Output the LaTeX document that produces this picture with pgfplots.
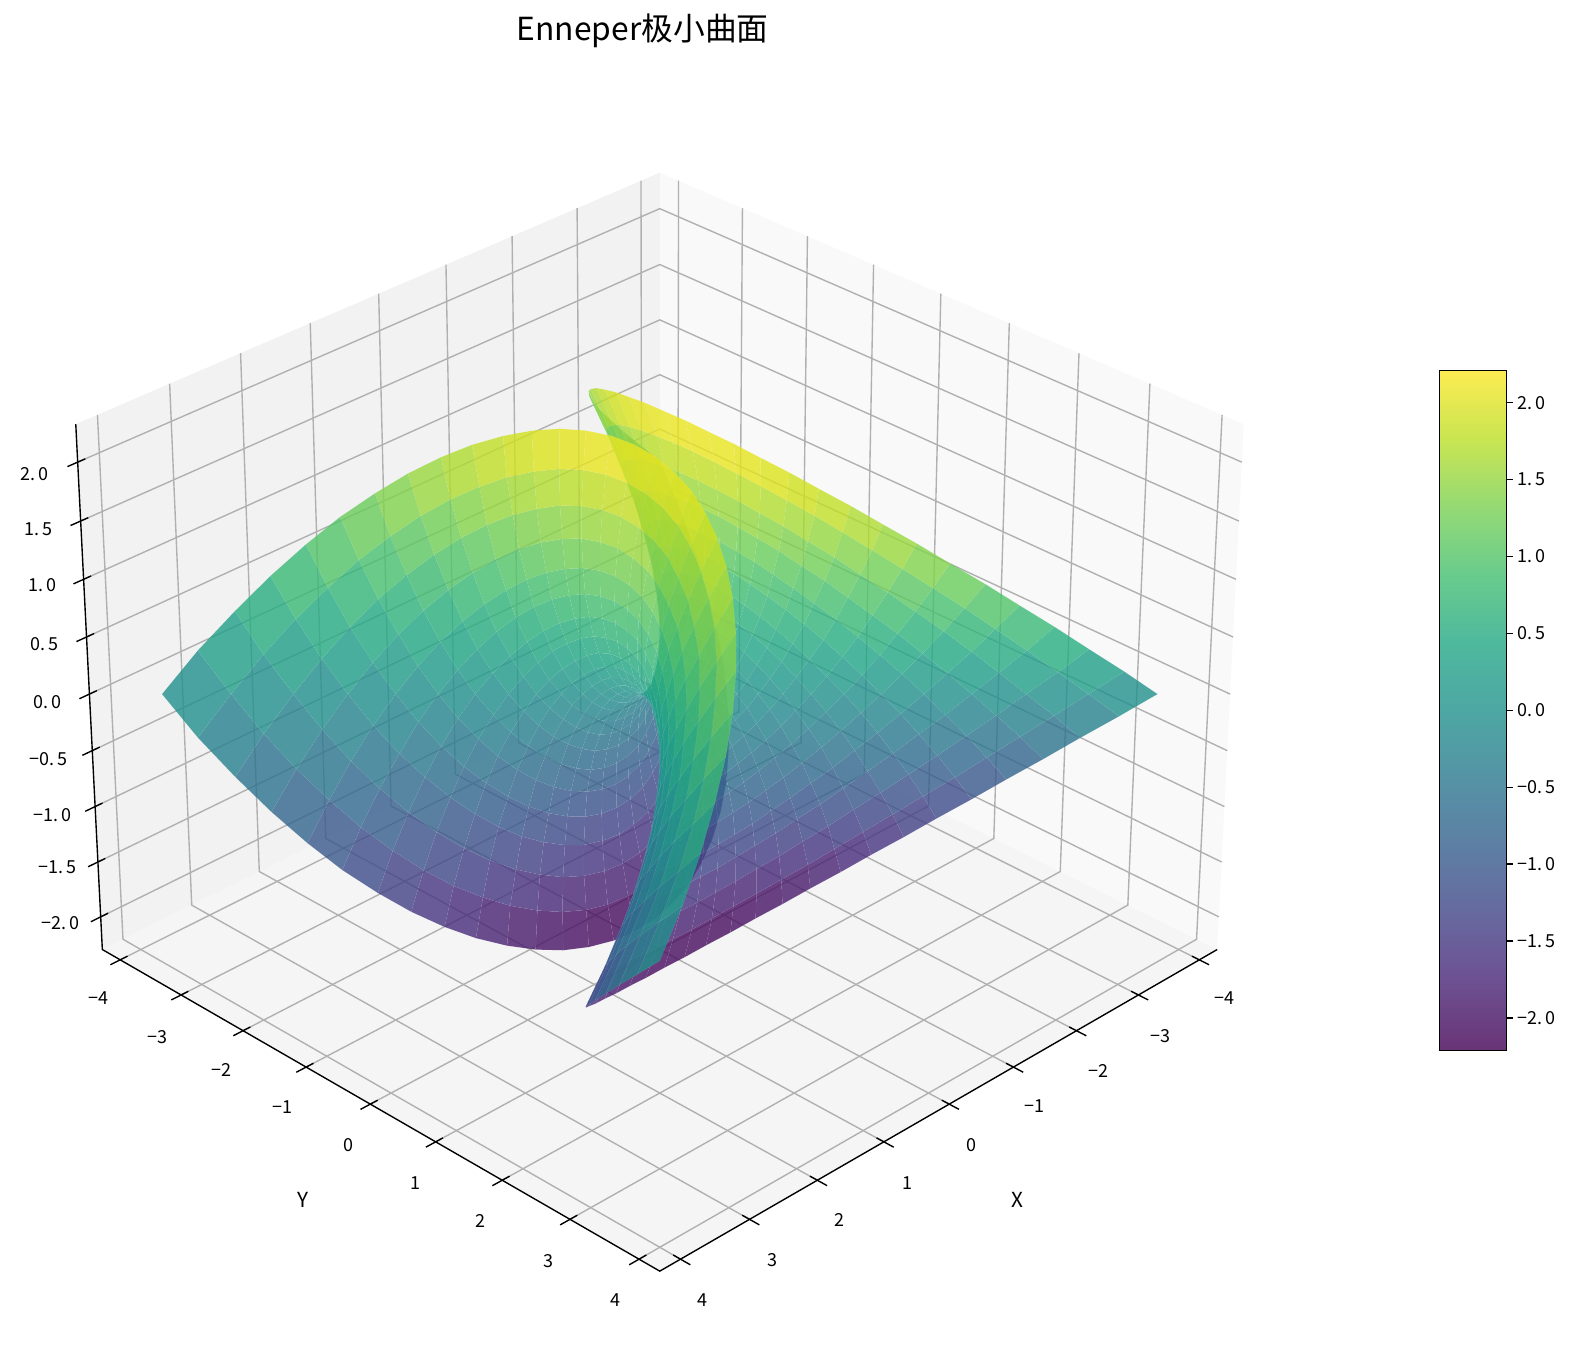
\documentclass[border=0pt]{standalone}
\usepackage{fontspec}
\setmainfont{Noto Sans CJK SC}
\usepackage{pgfplots}
\pgfplotsset{compat=1.18}
\newcommand\DD[3]{(1-0.008837*((#1)+(#2))-0.01008*(#3))}
\newcommand\SX[3]{656+65.987*((#2)-(#1))/\DD{#1}{#2}{#3}}
\newcommand\SY[3]{690-(-32.997*((#1)+(#2))+112.96*(#3))/\DD{#1}{#2}{#3}}
\pgfplotsset{/pgfplots/table/proj/.style={
  x expr={\SX{\thisrow{x}}{\thisrow{y}}{\thisrow{z}}},
  y expr={\SY{\thisrow{x}}{\thisrow{y}}{\thisrow{z}}},
  z expr={0.08837*(\thisrow{x}+\thisrow{y})+0.1008*\thisrow{z}}, row sep=\\},
 colormap={viridis80}{rgb255=(105,52,118) rgb255=(109,80,145) rgb255=(103,105,159) rgb255=(93,127,164) rgb255=(85,147,165) rgb255=(77,167,163) rgb255=(78,185,157) rgb255=(105,204,141) rgb255=(149,218,116) rgb255=(202,229,81) rgb255=(253,236,81)},
 gl/.style={color={rgb,255:red,176;green,176;blue,176},line width=1pt,no marks,forget plot},
 bk/.style={color=black,line width=1pt,no marks,forget plot},
}
\newcommand\tl[3]{\node[font=\fontsize{13}{13}\selectfont] at (axis cs:#1,#2,0) {#3};}
\begin{document}
\begin{tikzpicture}
\path[use as bounding box] (0,0) rectangle (1141.9pt,980.4pt);
\begin{axis}[at={(0,0)},anchor=south west,scale only axis,width=1141.9pt,height=980.4pt,
  view={0}{90},hide axis,clip=false,xmin=0,xmax=1568,ymin=0,ymax=1346,zmin=-1,zmax=1,y dir=reverse,
  colormap/viridis,point meta min=-2.21,point meta max=2.21]
\addplot3[fill={rgb,255:red,245;green,245;blue,245},draw=none,no marks,forget plot] table[proj]{x y z\\ 4.297 4.297 -2.30\\ 4.297 -4.297 -2.30\\ -4.297 -4.297 -2.30\\ -4.297 4.297 -2.30\\ 4.297 4.297 -2.30\\};
\addplot3[fill={rgb,255:red,242;green,242;blue,242},draw=none,no marks,forget plot] table[proj]{x y z\\ 4.297 -4.297 -2.30\\ -4.297 -4.297 -2.30\\ -4.297 -4.297 2.32\\ 4.297 -4.297 2.32\\ 4.297 -4.297 -2.30\\};
\addplot3[fill={rgb,255:red,249;green,249;blue,249},draw=none,no marks,forget plot] table[proj]{x y z\\ -4.297 4.297 -2.30\\ -4.297 -4.297 -2.30\\ -4.297 -4.297 2.32\\ -4.297 4.297 2.32\\ -4.297 4.297 -2.30\\};
\pgfplotsinvokeforeach{-4,-3,-2,-1,0,1,2,3,4}{
\addplot3[gl] table[proj]{x y z\\ #1 4.297 -2.30\\ #1 -4.297 -2.30\\ #1 -4.297 2.32\\};
\addplot3[gl] table[proj]{x y z\\ 4.297 #1 -2.30\\ -4.297 #1 -2.30\\ -4.297 #1 2.32\\};
\addplot3[bk] table[proj]{x y z\\ #1 4.437 -2.30\\ #1 4.192 -2.30\\};
\addplot3[bk] table[proj]{x y z\\ 4.437 #1 -2.30\\ 4.192 #1 -2.30\\};
}
\pgfplotsinvokeforeach{-2,-1.5,-1,-0.5,0,0.5,1,1.5,2}{
\addplot3[gl] table[proj]{x y z\\ 4.297 -4.297 #1\\ -4.297 -4.297 #1\\ -4.297 4.297 #1\\};
\addplot3[bk] table[proj]{x y z\\ 4.437 -4.297 #1\\ 4.192 -4.297 #1\\};
}
\addplot3[bk] table[proj]{x y z\\ -4.297 4.297 -2.30\\ 4.297 4.297 -2.30\\ 4.297 -4.297 -2.30\\ 4.297 -4.297 2.32\\};
\addplot3[surf,shader=faceted,faceted color=white,line width=0.2pt,fill opacity=0.8,draw opacity=0.12,z buffer=sort,mesh/rows=31,mesh/cols=31,point meta=\thisrow{z}] table[proj]{x y z\\
-3.75 -3.75 0\\-3.32 -3.64 .29\\-2.91 -3.49 .56\\-2.54 -3.32 .81\\-2.19 -3.13 1.04\\-1.88 -2.92 1.25\\-1.59 -2.68 1.44\\-1.34 -2.43 1.61\\-1.11 -2.16 1.76\\-.92 -1.88 1.89\\-.75 -1.58 2\\-.62 -1.28 2.09\\-.51 -.97 2.16\\-.44 -.65 2.21\\-.39 -.32 2.24\\-.38 0 2.25\\-.39 .32 2.24\\-.44 .65 2.21\\-.51 .97 2.16\\-.62 1.28 2.09\\-.75 1.58 2\\-.92 1.88 1.89\\-1.11 2.16 1.76\\-1.34 2.43 1.61\\-1.59 2.68 1.44\\-1.88 2.92 1.25\\-2.19 3.13 1.04\\-2.54 3.32 .81\\-2.91 3.49 .56\\-3.32 3.64 .29\\-3.75 3.75 0\\
-3.64 -3.32 -.29\\-3.23 -3.23 0\\-2.85 -3.12 .27\\-2.50 -2.98 .52\\-2.18 -2.81 .75\\-1.89 -2.63 .96\\-1.62 -2.42 1.15\\-1.38 -2.20 1.32\\-1.17 -1.96 1.47\\-.99 -1.70 1.60\\-.84 -1.44 1.71\\-.71 -1.16 1.80\\-.61 -.88 1.87\\-.54 -.59 1.92\\-.50 -.30 1.95\\-.49 0 1.96\\-.50 .30 1.95\\-.54 .59 1.92\\-.61 .88 1.87\\-.71 1.16 1.80\\-.84 1.44 1.71\\-.99 1.70 1.60\\-1.17 1.96 1.47\\-1.38 2.20 1.32\\-1.62 2.42 1.15\\-1.89 2.63 .96\\-2.18 2.81 .75\\-2.50 2.98 .52\\-2.85 3.12 .27\\-3.23 3.23 0\\-3.64 3.32 -.29\\
-3.49 -2.91 -.56\\-3.12 -2.85 -.27\\-2.76 -2.76 0\\-2.44 -2.65 .25\\-2.14 -2.52 .48\\-1.87 -2.36 .69\\-1.62 -2.18 .88\\-1.40 -1.98 1.05\\-1.20 -1.77 1.20\\-1.04 -1.54 1.33\\-.89 -1.30 1.44\\-.78 -1.05 1.53\\-.68 -.80 1.60\\-.62 -.54 1.65\\-.58 -.27 1.68\\-.57 0 1.69\\-.58 .27 1.68\\-.62 .54 1.65\\-.68 .80 1.60\\-.78 1.05 1.53\\-.89 1.30 1.44\\-1.04 1.54 1.33\\-1.20 1.77 1.20\\-1.40 1.98 1.05\\-1.62 2.18 .88\\-1.87 2.36 .69\\-2.14 2.52 .48\\-2.44 2.65 .25\\-2.76 2.76 0\\-3.12 2.85 -.27\\-3.49 2.91 -.56\\
-3.32 -2.54 -.81\\-2.98 -2.50 -.52\\-2.65 -2.44 -.25\\-2.35 -2.35 0\\-2.08 -2.24 .23\\-1.82 -2.11 .44\\-1.60 -1.95 .63\\-1.39 -1.78 .80\\-1.21 -1.59 .95\\-1.06 -1.39 1.08\\-.92 -1.18 1.19\\-.82 -.95 1.28\\-.73 -.72 1.35\\-.67 -.49 1.40\\-.64 -.24 1.43\\-.62 0 1.44\\-.64 .24 1.43\\-.67 .49 1.40\\-.73 .72 1.35\\-.82 .95 1.28\\-.92 1.18 1.19\\-1.06 1.39 1.08\\-1.21 1.59 .95\\-1.39 1.78 .80\\-1.60 1.95 .63\\-1.82 2.11 .44\\-2.08 2.24 .23\\-2.35 2.35 0\\-2.65 2.44 -.25\\-2.98 2.50 -.52\\-3.32 2.54 -.81\\
-3.13 -2.19 -1.04\\-2.81 -2.18 -.75\\-2.52 -2.14 -.48\\-2.24 -2.08 -.23\\-1.99 -1.99 0\\-1.76 -1.88 .21\\-1.55 -1.75 .40\\-1.36 -1.60 .57\\-1.20 -1.43 .72\\-1.05 -1.25 .85\\-.93 -1.06 .96\\-.83 -.86 1.05\\-.76 -.65 1.12\\-.70 -.44 1.17\\-.67 -.22 1.20\\-.66 0 1.21\\-.67 .22 1.20\\-.70 .44 1.17\\-.76 .65 1.12\\-.83 .86 1.05\\-.93 1.06 .96\\-1.05 1.25 .85\\-1.20 1.43 .72\\-1.36 1.60 .57\\-1.55 1.75 .40\\-1.76 1.88 .21\\-1.99 1.99 0\\-2.24 2.08 -.23\\-2.52 2.14 -.48\\-2.81 2.18 -.75\\-3.13 2.19 -1.04\\
-2.92 -1.88 -1.25\\-2.63 -1.89 -.96\\-2.36 -1.87 -.69\\-2.11 -1.82 -.44\\-1.88 -1.76 -.21\\-1.67 -1.67 0\\-1.48 -1.56 .19\\-1.31 -1.43 .36\\-1.16 -1.29 .51\\-1.03 -1.13 .64\\-.92 -.96 .75\\-.83 -.78 .84\\-.76 -.59 .91\\-.71 -.40 .96\\-.68 -.20 .99\\-.67 0 1\\-.68 .20 .99\\-.71 .40 .96\\-.76 .59 .91\\-.83 .78 .84\\-.92 .96 .75\\-1.03 1.13 .64\\-1.16 1.29 .51\\-1.31 1.43 .36\\-1.48 1.56 .19\\-1.67 1.67 0\\-1.88 1.76 -.21\\-2.11 1.82 -.44\\-2.36 1.87 -.69\\-2.63 1.89 -.96\\-2.92 1.88 -1.25\\
-2.68 -1.59 -1.44\\-2.42 -1.62 -1.15\\-2.18 -1.62 -.88\\-1.95 -1.60 -.63\\-1.75 -1.55 -.40\\-1.56 -1.48 -.19\\-1.39 -1.39 0\\-1.23 -1.28 .17\\-1.10 -1.15 .32\\-.98 -1.01 .45\\-.88 -.86 .56\\-.80 -.70 .65\\-.74 -.53 .72\\-.69 -.36 .77\\-.67 -.18 .80\\-.66 0 .81\\-.67 .18 .80\\-.69 .36 .77\\-.74 .53 .72\\-.80 .70 .65\\-.88 .86 .56\\-.98 1.01 .45\\-1.10 1.15 .32\\-1.23 1.28 .17\\-1.39 1.39 0\\-1.56 1.48 -.19\\-1.75 1.55 -.40\\-1.95 1.60 -.63\\-2.18 1.62 -.88\\-2.42 1.62 -1.15\\-2.68 1.59 -1.44\\
-2.43 -1.34 -1.61\\-2.20 -1.38 -1.32\\-1.98 -1.40 -1.05\\-1.78 -1.39 -.80\\-1.60 -1.36 -.57\\-1.43 -1.31 -.36\\-1.28 -1.23 -.17\\-1.14 -1.14 0\\-1.02 -1.03 .15\\-.92 -.91 .28\\-.83 -.78 .39\\-.76 -.63 .48\\-.70 -.48 .55\\-.66 -.33 .60\\-.64 -.16 .63\\-.63 0 .64\\-.64 .16 .63\\-.66 .33 .60\\-.70 .48 .55\\-.76 .63 .48\\-.83 .78 .39\\-.92 .91 .28\\-1.02 1.03 .15\\-1.14 1.14 0\\-1.28 1.23 -.17\\-1.43 1.31 -.36\\-1.60 1.36 -.57\\-1.78 1.39 -.80\\-1.98 1.40 -1.05\\-2.20 1.38 -1.32\\-2.43 1.34 -1.61\\
-2.16 -1.11 -1.76\\-1.96 -1.17 -1.47\\-1.77 -1.20 -1.20\\-1.59 -1.21 -.95\\-1.43 -1.20 -.72\\-1.29 -1.16 -.51\\-1.15 -1.10 -.32\\-1.03 -1.02 -.15\\-.93 -.93 0\\-.84 -.82 .13\\-.76 -.70 .24\\-.70 -.57 .33\\-.65 -.44 .40\\-.61 -.30 .45\\-.59 -.15 .48\\-.59 0 .49\\-.59 .15 .48\\-.61 .30 .45\\-.65 .44 .40\\-.70 .57 .33\\-.76 .70 .24\\-.84 .82 .13\\-.93 .93 0\\-1.03 1.02 -.15\\-1.15 1.10 -.32\\-1.29 1.16 -.51\\-1.43 1.20 -.72\\-1.59 1.21 -.95\\-1.77 1.20 -1.20\\-1.96 1.17 -1.47\\-2.16 1.11 -1.76\\
-1.88 -.92 -1.89\\-1.70 -.99 -1.60\\-1.54 -1.04 -1.33\\-1.39 -1.06 -1.08\\-1.25 -1.05 -.85\\-1.13 -1.03 -.64\\-1.01 -.98 -.45\\-.91 -.92 -.28\\-.82 -.84 -.13\\-.74 -.74 0\\-.68 -.64 .11\\-.62 -.52 .20\\-.58 -.40 .27\\-.55 -.27 .32\\-.53 -.14 .35\\-.53 0 .36\\-.53 .14 .35\\-.55 .27 .32\\-.58 .40 .27\\-.62 .52 .20\\-.68 .64 .11\\-.74 .74 0\\-.82 .84 -.13\\-.91 .92 -.28\\-1.01 .98 -.45\\-1.13 1.03 -.64\\-1.25 1.05 -.85\\-1.39 1.06 -1.08\\-1.54 1.04 -1.33\\-1.70 .99 -1.60\\-1.88 .92 -1.89\\
-1.58 -.75 -2\\-1.44 -.84 -1.71\\-1.30 -.89 -1.44\\-1.18 -.92 -1.19\\-1.06 -.93 -.96\\-.96 -.92 -.75\\-.86 -.88 -.56\\-.78 -.83 -.39\\-.70 -.76 -.24\\-.64 -.68 -.11\\-.58 -.58 0\\-.54 -.48 .09\\-.50 -.37 .16\\-.48 -.25 .21\\-.46 -.12 .24\\-.46 0 .25\\-.46 .12 .24\\-.48 .25 .21\\-.50 .37 .16\\-.54 .48 .09\\-.58 .58 0\\-.64 .68 -.11\\-.70 .76 -.24\\-.78 .83 -.39\\-.86 .88 -.56\\-.96 .92 -.75\\-1.06 .93 -.96\\-1.18 .92 -1.19\\-1.30 .89 -1.44\\-1.44 .84 -1.71\\-1.58 .75 -2\\
-1.28 -.62 -2.09\\-1.16 -.71 -1.80\\-1.05 -.78 -1.53\\-.95 -.82 -1.28\\-.86 -.83 -1.05\\-.78 -.83 -.84\\-.70 -.80 -.65\\-.63 -.76 -.48\\-.57 -.70 -.33\\-.52 -.62 -.20\\-.48 -.54 -.09\\-.44 -.44 0\\-.41 -.34 .07\\-.39 -.23 .12\\-.38 -.12 .15\\-.38 0 .16\\-.38 .12 .15\\-.39 .23 .12\\-.41 .34 .07\\-.44 .44 0\\-.48 .54 -.09\\-.52 .62 -.20\\-.57 .70 -.33\\-.63 .76 -.48\\-.70 .80 -.65\\-.78 .83 -.84\\-.86 .83 -1.05\\-.95 .82 -1.28\\-1.05 .78 -1.53\\-1.16 .71 -1.80\\-1.28 .62 -2.09\\
-.97 -.51 -2.16\\-.88 -.61 -1.87\\-.80 -.68 -1.60\\-.72 -.73 -1.35\\-.65 -.76 -1.12\\-.59 -.76 -.91\\-.53 -.74 -.72\\-.48 -.70 -.55\\-.44 -.65 -.40\\-.40 -.58 -.27\\-.37 -.50 -.16\\-.34 -.41 -.07\\-.32 -.32 0\\-.30 -.22 .05\\-.29 -.11 .08\\-.29 0 .09\\-.29 .11 .08\\-.30 .22 .05\\-.32 .32 0\\-.34 .41 -.07\\-.37 .50 -.16\\-.40 .58 -.27\\-.44 .65 -.40\\-.48 .70 -.55\\-.53 .74 -.72\\-.59 .76 -.91\\-.65 .76 -1.12\\-.72 .73 -1.35\\-.80 .68 -1.60\\-.88 .61 -1.87\\-.97 .51 -2.16\\
-.65 -.44 -2.21\\-.59 -.54 -1.92\\-.54 -.62 -1.65\\-.49 -.67 -1.40\\-.44 -.70 -1.17\\-.40 -.71 -.96\\-.36 -.69 -.77\\-.33 -.66 -.60\\-.30 -.61 -.45\\-.27 -.55 -.32\\-.25 -.48 -.21\\-.23 -.39 -.12\\-.22 -.30 -.05\\-.21 -.21 0\\-.20 -.10 .03\\-.20 0 .04\\-.20 .10 .03\\-.21 .21 0\\-.22 .30 -.05\\-.23 .39 -.12\\-.25 .48 -.21\\-.27 .55 -.32\\-.30 .61 -.45\\-.33 .66 -.60\\-.36 .69 -.77\\-.40 .71 -.96\\-.44 .70 -1.17\\-.49 .67 -1.40\\-.54 .62 -1.65\\-.59 .54 -1.92\\-.65 .44 -2.21\\
-.32 -.39 -2.24\\-.30 -.50 -1.95\\-.27 -.58 -1.68\\-.24 -.64 -1.43\\-.22 -.67 -1.20\\-.20 -.68 -.99\\-.18 -.67 -.80\\-.16 -.64 -.63\\-.15 -.59 -.48\\-.14 -.53 -.35\\-.12 -.46 -.24\\-.12 -.38 -.15\\-.11 -.29 -.08\\-.10 -.20 -.03\\-.10 -.10 0\\-.10 0 .01\\-.10 .10 0\\-.10 .20 -.03\\-.11 .29 -.08\\-.12 .38 -.15\\-.12 .46 -.24\\-.14 .53 -.35\\-.15 .59 -.48\\-.16 .64 -.63\\-.18 .67 -.80\\-.20 .68 -.99\\-.22 .67 -1.20\\-.24 .64 -1.43\\-.27 .58 -1.68\\-.30 .50 -1.95\\-.32 .39 -2.24\\
0 -.38 -2.25\\0 -.49 -1.96\\0 -.57 -1.69\\0 -.62 -1.44\\0 -.66 -1.21\\0 -.67 -1\\0 -.66 -.81\\0 -.63 -.64\\0 -.59 -.49\\0 -.53 -.36\\0 -.46 -.25\\0 -.38 -.16\\0 -.29 -.09\\0 -.20 -.04\\0 -.10 -.01\\0 0 0\\0 .10 -.01\\0 .20 -.04\\0 .29 -.09\\0 .38 -.16\\0 .46 -.25\\0 .53 -.36\\0 .59 -.49\\0 .63 -.64\\0 .66 -.81\\0 .67 -1\\0 .66 -1.21\\0 .62 -1.44\\0 .57 -1.69\\0 .49 -1.96\\0 .38 -2.25\\
.32 -.39 -2.24\\.30 -.50 -1.95\\.27 -.58 -1.68\\.24 -.64 -1.43\\.22 -.67 -1.20\\.20 -.68 -.99\\.18 -.67 -.80\\.16 -.64 -.63\\.15 -.59 -.48\\.14 -.53 -.35\\.12 -.46 -.24\\.12 -.38 -.15\\.11 -.29 -.08\\.10 -.20 -.03\\.10 -.10 0\\.10 0 .01\\.10 .10 0\\.10 .20 -.03\\.11 .29 -.08\\.12 .38 -.15\\.12 .46 -.24\\.14 .53 -.35\\.15 .59 -.48\\.16 .64 -.63\\.18 .67 -.80\\.20 .68 -.99\\.22 .67 -1.20\\.24 .64 -1.43\\.27 .58 -1.68\\.30 .50 -1.95\\.32 .39 -2.24\\
.65 -.44 -2.21\\.59 -.54 -1.92\\.54 -.62 -1.65\\.49 -.67 -1.40\\.44 -.70 -1.17\\.40 -.71 -.96\\.36 -.69 -.77\\.33 -.66 -.60\\.30 -.61 -.45\\.27 -.55 -.32\\.25 -.48 -.21\\.23 -.39 -.12\\.22 -.30 -.05\\.21 -.21 0\\.20 -.10 .03\\.20 0 .04\\.20 .10 .03\\.21 .21 0\\.22 .30 -.05\\.23 .39 -.12\\.25 .48 -.21\\.27 .55 -.32\\.30 .61 -.45\\.33 .66 -.60\\.36 .69 -.77\\.40 .71 -.96\\.44 .70 -1.17\\.49 .67 -1.40\\.54 .62 -1.65\\.59 .54 -1.92\\.65 .44 -2.21\\
.97 -.51 -2.16\\.88 -.61 -1.87\\.80 -.68 -1.60\\.72 -.73 -1.35\\.65 -.76 -1.12\\.59 -.76 -.91\\.53 -.74 -.72\\.48 -.70 -.55\\.44 -.65 -.40\\.40 -.58 -.27\\.37 -.50 -.16\\.34 -.41 -.07\\.32 -.32 0\\.30 -.22 .05\\.29 -.11 .08\\.29 0 .09\\.29 .11 .08\\.30 .22 .05\\.32 .32 0\\.34 .41 -.07\\.37 .50 -.16\\.40 .58 -.27\\.44 .65 -.40\\.48 .70 -.55\\.53 .74 -.72\\.59 .76 -.91\\.65 .76 -1.12\\.72 .73 -1.35\\.80 .68 -1.60\\.88 .61 -1.87\\.97 .51 -2.16\\
1.28 -.62 -2.09\\1.16 -.71 -1.80\\1.05 -.78 -1.53\\.95 -.82 -1.28\\.86 -.83 -1.05\\.78 -.83 -.84\\.70 -.80 -.65\\.63 -.76 -.48\\.57 -.70 -.33\\.52 -.62 -.20\\.48 -.54 -.09\\.44 -.44 0\\.41 -.34 .07\\.39 -.23 .12\\.38 -.12 .15\\.38 0 .16\\.38 .12 .15\\.39 .23 .12\\.41 .34 .07\\.44 .44 0\\.48 .54 -.09\\.52 .62 -.20\\.57 .70 -.33\\.63 .76 -.48\\.70 .80 -.65\\.78 .83 -.84\\.86 .83 -1.05\\.95 .82 -1.28\\1.05 .78 -1.53\\1.16 .71 -1.80\\1.28 .62 -2.09\\
1.58 -.75 -2\\1.44 -.84 -1.71\\1.30 -.89 -1.44\\1.18 -.92 -1.19\\1.06 -.93 -.96\\.96 -.92 -.75\\.86 -.88 -.56\\.78 -.83 -.39\\.70 -.76 -.24\\.64 -.68 -.11\\.58 -.58 0\\.54 -.48 .09\\.50 -.37 .16\\.48 -.25 .21\\.46 -.12 .24\\.46 0 .25\\.46 .12 .24\\.48 .25 .21\\.50 .37 .16\\.54 .48 .09\\.58 .58 0\\.64 .68 -.11\\.70 .76 -.24\\.78 .83 -.39\\.86 .88 -.56\\.96 .92 -.75\\1.06 .93 -.96\\1.18 .92 -1.19\\1.30 .89 -1.44\\1.44 .84 -1.71\\1.58 .75 -2\\
1.88 -.92 -1.89\\1.70 -.99 -1.60\\1.54 -1.04 -1.33\\1.39 -1.06 -1.08\\1.25 -1.05 -.85\\1.13 -1.03 -.64\\1.01 -.98 -.45\\.91 -.92 -.28\\.82 -.84 -.13\\.74 -.74 0\\.68 -.64 .11\\.62 -.52 .20\\.58 -.40 .27\\.55 -.27 .32\\.53 -.14 .35\\.53 0 .36\\.53 .14 .35\\.55 .27 .32\\.58 .40 .27\\.62 .52 .20\\.68 .64 .11\\.74 .74 0\\.82 .84 -.13\\.91 .92 -.28\\1.01 .98 -.45\\1.13 1.03 -.64\\1.25 1.05 -.85\\1.39 1.06 -1.08\\1.54 1.04 -1.33\\1.70 .99 -1.60\\1.88 .92 -1.89\\
2.16 -1.11 -1.76\\1.96 -1.17 -1.47\\1.77 -1.20 -1.20\\1.59 -1.21 -.95\\1.43 -1.20 -.72\\1.29 -1.16 -.51\\1.15 -1.10 -.32\\1.03 -1.02 -.15\\.93 -.93 0\\.84 -.82 .13\\.76 -.70 .24\\.70 -.57 .33\\.65 -.44 .40\\.61 -.30 .45\\.59 -.15 .48\\.59 0 .49\\.59 .15 .48\\.61 .30 .45\\.65 .44 .40\\.70 .57 .33\\.76 .70 .24\\.84 .82 .13\\.93 .93 0\\1.03 1.02 -.15\\1.15 1.10 -.32\\1.29 1.16 -.51\\1.43 1.20 -.72\\1.59 1.21 -.95\\1.77 1.20 -1.20\\1.96 1.17 -1.47\\2.16 1.11 -1.76\\
2.43 -1.34 -1.61\\2.20 -1.38 -1.32\\1.98 -1.40 -1.05\\1.78 -1.39 -.80\\1.60 -1.36 -.57\\1.43 -1.31 -.36\\1.28 -1.23 -.17\\1.14 -1.14 0\\1.02 -1.03 .15\\.92 -.91 .28\\.83 -.78 .39\\.76 -.63 .48\\.70 -.48 .55\\.66 -.33 .60\\.64 -.16 .63\\.63 0 .64\\.64 .16 .63\\.66 .33 .60\\.70 .48 .55\\.76 .63 .48\\.83 .78 .39\\.92 .91 .28\\1.02 1.03 .15\\1.14 1.14 0\\1.28 1.23 -.17\\1.43 1.31 -.36\\1.60 1.36 -.57\\1.78 1.39 -.80\\1.98 1.40 -1.05\\2.20 1.38 -1.32\\2.43 1.34 -1.61\\
2.68 -1.59 -1.44\\2.42 -1.62 -1.15\\2.18 -1.62 -.88\\1.95 -1.60 -.63\\1.75 -1.55 -.40\\1.56 -1.48 -.19\\1.39 -1.39 0\\1.23 -1.28 .17\\1.10 -1.15 .32\\.98 -1.01 .45\\.88 -.86 .56\\.80 -.70 .65\\.74 -.53 .72\\.69 -.36 .77\\.67 -.18 .80\\.66 0 .81\\.67 .18 .80\\.69 .36 .77\\.74 .53 .72\\.80 .70 .65\\.88 .86 .56\\.98 1.01 .45\\1.10 1.15 .32\\1.23 1.28 .17\\1.39 1.39 0\\1.56 1.48 -.19\\1.75 1.55 -.40\\1.95 1.60 -.63\\2.18 1.62 -.88\\2.42 1.62 -1.15\\2.68 1.59 -1.44\\
2.92 -1.88 -1.25\\2.63 -1.89 -.96\\2.36 -1.87 -.69\\2.11 -1.82 -.44\\1.88 -1.76 -.21\\1.67 -1.67 0\\1.48 -1.56 .19\\1.31 -1.43 .36\\1.16 -1.29 .51\\1.03 -1.13 .64\\.92 -.96 .75\\.83 -.78 .84\\.76 -.59 .91\\.71 -.40 .96\\.68 -.20 .99\\.67 0 1\\.68 .20 .99\\.71 .40 .96\\.76 .59 .91\\.83 .78 .84\\.92 .96 .75\\1.03 1.13 .64\\1.16 1.29 .51\\1.31 1.43 .36\\1.48 1.56 .19\\1.67 1.67 0\\1.88 1.76 -.21\\2.11 1.82 -.44\\2.36 1.87 -.69\\2.63 1.89 -.96\\2.92 1.88 -1.25\\
3.13 -2.19 -1.04\\2.81 -2.18 -.75\\2.52 -2.14 -.48\\2.24 -2.08 -.23\\1.99 -1.99 0\\1.76 -1.88 .21\\1.55 -1.75 .40\\1.36 -1.60 .57\\1.20 -1.43 .72\\1.05 -1.25 .85\\.93 -1.06 .96\\.83 -.86 1.05\\.76 -.65 1.12\\.70 -.44 1.17\\.67 -.22 1.20\\.66 0 1.21\\.67 .22 1.20\\.70 .44 1.17\\.76 .65 1.12\\.83 .86 1.05\\.93 1.06 .96\\1.05 1.25 .85\\1.20 1.43 .72\\1.36 1.60 .57\\1.55 1.75 .40\\1.76 1.88 .21\\1.99 1.99 0\\2.24 2.08 -.23\\2.52 2.14 -.48\\2.81 2.18 -.75\\3.13 2.19 -1.04\\
3.32 -2.54 -.81\\2.98 -2.50 -.52\\2.65 -2.44 -.25\\2.35 -2.35 0\\2.08 -2.24 .23\\1.82 -2.11 .44\\1.60 -1.95 .63\\1.39 -1.78 .80\\1.21 -1.59 .95\\1.06 -1.39 1.08\\.92 -1.18 1.19\\.82 -.95 1.28\\.73 -.72 1.35\\.67 -.49 1.40\\.64 -.24 1.43\\.62 0 1.44\\.64 .24 1.43\\.67 .49 1.40\\.73 .72 1.35\\.82 .95 1.28\\.92 1.18 1.19\\1.06 1.39 1.08\\1.21 1.59 .95\\1.39 1.78 .80\\1.60 1.95 .63\\1.82 2.11 .44\\2.08 2.24 .23\\2.35 2.35 0\\2.65 2.44 -.25\\2.98 2.50 -.52\\3.32 2.54 -.81\\
3.49 -2.91 -.56\\3.12 -2.85 -.27\\2.76 -2.76 0\\2.44 -2.65 .25\\2.14 -2.52 .48\\1.87 -2.36 .69\\1.62 -2.18 .88\\1.40 -1.98 1.05\\1.20 -1.77 1.20\\1.04 -1.54 1.33\\.89 -1.30 1.44\\.78 -1.05 1.53\\.68 -.80 1.60\\.62 -.54 1.65\\.58 -.27 1.68\\.57 0 1.69\\.58 .27 1.68\\.62 .54 1.65\\.68 .80 1.60\\.78 1.05 1.53\\.89 1.30 1.44\\1.04 1.54 1.33\\1.20 1.77 1.20\\1.40 1.98 1.05\\1.62 2.18 .88\\1.87 2.36 .69\\2.14 2.52 .48\\2.44 2.65 .25\\2.76 2.76 0\\3.12 2.85 -.27\\3.49 2.91 -.56\\
3.64 -3.32 -.29\\3.23 -3.23 0\\2.85 -3.12 .27\\2.50 -2.98 .52\\2.18 -2.81 .75\\1.89 -2.63 .96\\1.62 -2.42 1.15\\1.38 -2.20 1.32\\1.17 -1.96 1.47\\.99 -1.70 1.60\\.84 -1.44 1.71\\.71 -1.16 1.80\\.61 -.88 1.87\\.54 -.59 1.92\\.50 -.30 1.95\\.49 0 1.96\\.50 .30 1.95\\.54 .59 1.92\\.61 .88 1.87\\.71 1.16 1.80\\.84 1.44 1.71\\.99 1.70 1.60\\1.17 1.96 1.47\\1.38 2.20 1.32\\1.62 2.42 1.15\\1.89 2.63 .96\\2.18 2.81 .75\\2.50 2.98 .52\\2.85 3.12 .27\\3.23 3.23 0\\3.64 3.32 -.29\\
3.75 -3.75 0\\3.32 -3.64 .29\\2.91 -3.49 .56\\2.54 -3.32 .81\\2.19 -3.13 1.04\\1.88 -2.92 1.25\\1.59 -2.68 1.44\\1.34 -2.43 1.61\\1.11 -2.16 1.76\\.92 -1.88 1.89\\.75 -1.58 2\\.62 -1.28 2.09\\.51 -.97 2.16\\.44 -.65 2.21\\.39 -.32 2.24\\.38 0 2.25\\.39 .32 2.24\\.44 .65 2.21\\.51 .97 2.16\\.62 1.28 2.09\\.75 1.58 2\\.92 1.88 1.89\\1.11 2.16 1.76\\1.34 2.43 1.61\\1.59 2.68 1.44\\1.88 2.92 1.25\\2.19 3.13 1.04\\2.54 3.32 .81\\2.91 3.49 .56\\3.32 3.64 .29\\3.75 3.75 0\\
};
\tl{98}{992}{−4}\tl{157}{1031}{−3}\tl{220}{1064}{−2}\tl{281}{1101}{−1}\tl{346}{1138}{0}\tl{413}{1176}{1}\tl{478}{1214}{2}\tl{545}{1254}{3}\tl{612}{1292}{4}
\tl{1217}{992}{−4}\tl{1154}{1030}{−3}\tl{1092}{1065}{−2}\tl{1029}{1100}{−1}\tl{966}{1138}{0}\tl{902}{1176}{1}\tl{835}{1213}{2}\tl{768}{1253}{3}\tl{698}{1292}{4}
\tl{34}{471}{2.\kern.15em0}\tl{38}{526}{1.\kern.15em5}\tl{42}{582}{1.\kern.15em0}\tl{44}{640}{0.\kern.15em5}\tl{47}{698}{0.\kern.15em0}\tl{48}{755}{−0.\kern.15em5}\tl{52}{810}{−1.\kern.15em0}\tl{57}{862}{−1.\kern.15em5}\tl{60}{918}{−2.\kern.15em0}
\node[font=\fontsize{15}{15}\selectfont] at (axis cs:1012,1193,0) {X};
\node[font=\fontsize{15}{15}\selectfont] at (axis cs:301,1193,0) {Y};
\node[font=\fontsize{23}{23}\selectfont] at (axis cs:639,31,0) {Enneper极小曲面};
\end{axis}
\begin{axis}[at={(1042.1pt,219.9pt)},anchor=south west,scale only axis,width=48.8pt,height=492.3pt,
  view={0}{90},xmin=0,xmax=1,ymin=-2.21,ymax=2.21,xtick=\empty,ytick={-2,-1.5,-1,-0.5,0,0.5,1,1.5,2},
  yticklabels={−2.\kern.15em0,−1.\kern.15em5,−1.\kern.15em0,−0.\kern.15em5,0.\kern.15em0,0.\kern.15em5,1.\kern.15em0,1.\kern.15em5,2.\kern.15em0},
  ytick pos=right,tick align=outside,major tick length=4.5pt,tick style={black,line width=1pt},axis line style={line width=1pt},
  yticklabel style={font=\fontsize{13}{13}\selectfont},colormap name=viridis80,point meta min=-2.21,point meta max=2.21]
\addplot3[surf,shader=interp,mesh/rows=2,mesh/cols=2,point meta=y] coordinates {(0,-2.21,0) (1,-2.21,0) (0,2.21,0) (1,2.21,0)};
\end{axis}
\end{tikzpicture}
\end{document}
